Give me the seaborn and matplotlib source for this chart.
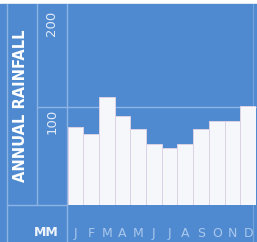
import matplotlib
matplotlib.use("Agg")
import matplotlib.pyplot as plt
import seaborn as sns

months = ["J", "F", "M", "A", "M ", "J ", "J  ", "A ", "S", "O", "N", "D"]
month_labels = ["J", "F", "M", "A", "M", "J", "J", "A", "S", "O", "N", "D"]
rainfall = [80, 72, 110, 91, 78, 62, 58, 62, 78, 86, 86, 101]
ytick_values = [100, 200]

BLUE = "#4f8ad0"
LINE = "#8db3e4"
W, H = 257, 242

sns.set_theme(style="white")
plt.rcParams['font.family'] = ['DejaVu Sans']

fig = plt.figure(figsize=(W / 100, H / 100), dpi=100)
fig.patch.set_facecolor("white")

# background panel in pixel coordinates
bg = fig.add_axes([0, 0, 1, 1])
bg.set_xlim(0, W)
bg.set_ylim(H, 0)
bg.axis("off")
bg.add_patch(plt.Rectangle((0, 4), W, H - 4, color=BLUE, zorder=0))
bg.plot([7, 7], [4, H], color=LINE, lw=1)
bg.plot([37, 37], [4, 205], color=LINE, lw=1)
bg.plot([67, 67], [4, H], color=LINE, lw=1)
bg.plot([253, 253], [4, H], color=LINE, lw=0.8, alpha=0.6)
bg.plot([7, 67], [205, 205], color=LINE, lw=1)
bg.plot([37, W], [107, 107], color=LINE, lw=1)

bg.text(21, 106, "ANNUAL RAINFALL", rotation=90, ha="center", va="center",
        color="white", fontsize=10.5, fontweight="bold")
for v in ytick_values:
    ypix = 205 - v * 0.98
    bg.text(52, ypix + 2, str(v), rotation=90, ha="center", va="top",
            color="#dfe9f7", fontsize=9.5)
bg.text(46, 233, "MM", ha="center", va="center", color="#eef3fb",
        fontsize=9, fontweight="bold")

# bar panel
ax = fig.add_axes([67.5 / W, (H - 205) / H, (256 - 67.5) / W, 200 / H])
ax.patch.set_alpha(0)
sns.barplot(x=months, y=rainfall, ax=ax, color="#f6f7fb", saturation=1,
            width=1.0, edgecolor="#dcd2e6", linewidth=0.7)
ax.set_ylim(0, 200 / 0.98)
ax.set_xlim(-0.5, 11.5)
ax.set_xticks(range(12))
ax.set_xticklabels(month_labels)
ax.set_yticks([])
ax.tick_params(axis="x", length=0, pad=16, labelsize=9, colors="#a9c7ec")
ax.set_xlabel("")
ax.set_ylabel("")
for s in ax.spines.values():
    s.set_visible(False)

fig.savefig("out.png", dpi=100)
